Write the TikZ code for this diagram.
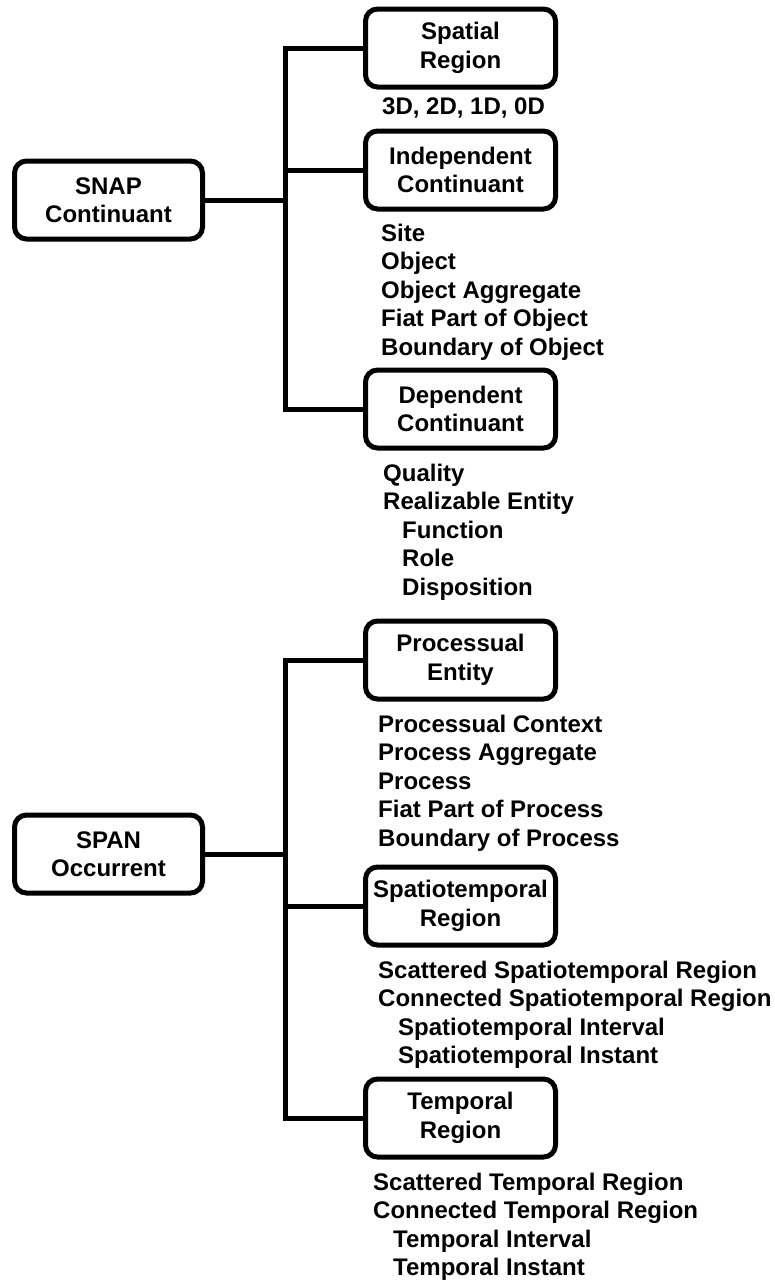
\documentclass[tikz,border=0pt]{standalone}
\usepackage{fontspec}
\setmainfont{Liberation Sans}
\usetikzlibrary{positioning}

\begin{document}
\begin{tikzpicture}[x=1pt,y=-1pt]
\tikzset{basic/.style={draw,line width=5pt,rounded corners=12pt,align=center,inner sep=0pt,font=\bfseries\fontsize{24}{28.5}\selectfont}}
\tikzset{root/.style={basic,minimum width=188pt,minimum height=78pt}}
\tikzset{category/.style={basic,minimum width=190pt,minimum height=78pt}}
\tikzset{members/.style={align=left,inner sep=0pt,font=\bfseries\fontsize{24}{28.5}\selectfont}}
\tikzset{branch/.style={line width=5pt}}
\useasboundingbox (0,0) rectangle (774,1282);
% SNAP side
        \node[root] (snap) at (108.5,200) {SNAP\\Continuant};
        \coordinate[right=80pt of snap.east] (snapfork);
        \node[category] (spatial) at (460.5,48) {Spatial\\Region};
        \node[members,below right=8pt and 19pt of spatial.south west] (spatiallist) {3D, 2D, 1D, 0D};
        \node[category] (independent) at (460.5,170) {Independent\\Continuant};
        \node[members,below right=12pt and 18pt of independent.south west] (independentlist)
        {Site\\Object\\Object Aggregate\\Fiat Part of Object\\Boundary of Object};
        \node[category] (dependent) at (460.5,409) {Dependent\\Continuant};
        \node[members,below right=13pt and 20pt of dependent.south west] (dependentlist)
        {Quality\\Realizable Entity\\\hspace*{19pt}Function\\\hspace*{19pt}Role\\\hspace*{19pt}Disposition};
            \path[draw,branch] (snap) -- (snapfork);
            \path[draw,branch] (snapfork) |- (spatial);
            \path[draw,branch] (snapfork) |- (independent);
            \path[draw,branch] (snapfork) |- (dependent);
% SPAN side
        \node[root] (span) at (108.5,854) {SPAN\\Occurrent};
        \coordinate[right=80pt of span.east] (spanfork);
        \node[category] (processual) at (460.5,660) {Processual\\Entity};
        \node[members,below right=13pt and 15pt of processual.south west] (processuallist)
        {Processual Context\\Process Aggregate\\Process\\Fiat Part of Process\\Boundary of Process};
        \node[category] (spatiotemporal) at (460.5,906) {Spatiotemporal\\Region};
        \node[members,below right=13pt and 15pt of spatiotemporal.south west] (spatiotemporallist)
        {Scattered Spatiotemporal Region\\Connected Spatiotemporal Region\\\hspace*{20pt}Spatiotemporal Interval\\\hspace*{20pt}Spatiotemporal Instant};
        \node[category] (temporal) at (460.5,1118) {Temporal\\Region};
        \node[members,below right=13pt and 10pt of temporal.south west] (temporallist)
        {Scattered Temporal Region\\Connected Temporal Region\\\hspace*{20pt}Temporal Interval\\\hspace*{20pt}Temporal Instant};
            \path[draw,branch] (span) -- (spanfork);
            \path[draw,branch] (spanfork) |- (processual);
            \path[draw,branch] (spanfork) |- (spatiotemporal);
            \path[draw,branch] (spanfork) |- (temporal);
    \end{tikzpicture}
\end{document}
